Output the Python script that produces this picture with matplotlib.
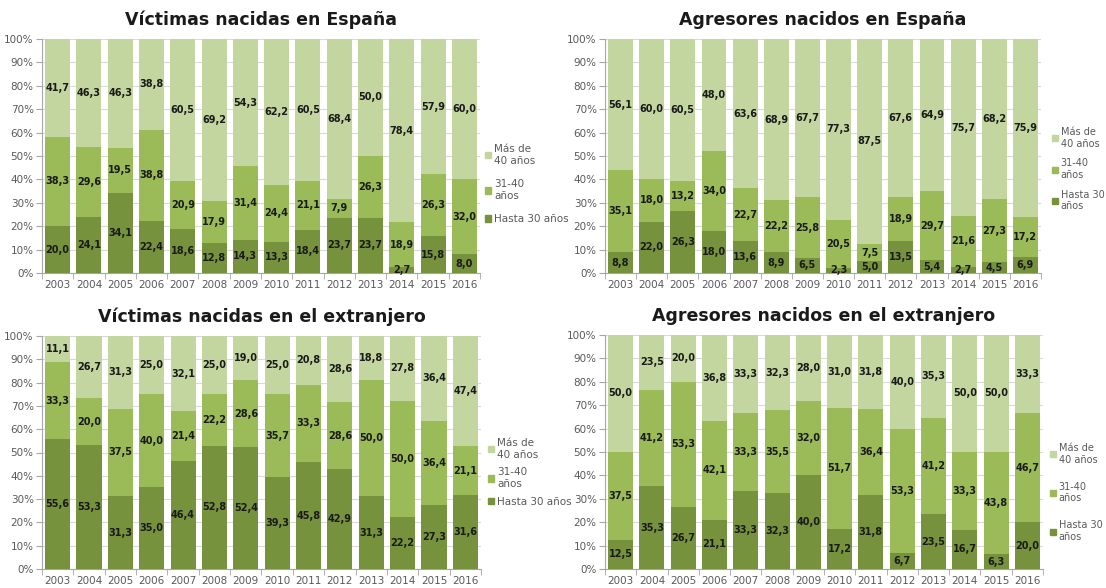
import numpy as np
import matplotlib.pyplot as plt
from matplotlib.patches import Patch

years = [str(y) for y in range(2003, 2017)]

# Víctimas nacidas en España
vic_esp_30 = [20.0, 24.1, 34.1, 22.4, 18.6, 12.8, 14.3, 13.3, 18.4, 23.7, 23.7, 2.7, 15.8, 8.0]
vic_esp_3140 = [38.3, 29.6, 19.5, 38.8, 20.9, 17.9, 31.4, 24.4, 21.1, 7.9, 26.3, 18.9, 26.3, 32.0]
vic_esp_40 = [41.7, 46.3, 46.3, 38.8, 60.5, 69.2, 54.3, 62.2, 60.5, 68.4, 50.0, 78.4, 57.9, 60.0]

# Agresores nacidos en España
agr_esp_30 = [8.8, 22.0, 26.3, 18.0, 13.6, 8.9, 6.5, 2.3, 5.0, 13.5, 5.4, 2.7, 4.5, 6.9]
agr_esp_3140 = [35.1, 18.0, 13.2, 34.0, 22.7, 22.2, 25.8, 20.5, 7.5, 18.9, 29.7, 21.6, 27.3, 17.2]
agr_esp_40 = [56.1, 60.0, 60.5, 48.0, 63.6, 68.9, 67.7, 77.3, 87.5, 67.6, 64.9, 75.7, 68.2, 75.9]

# Víctimas nacidas en el extranjero
vic_ext_30 = [55.6, 53.3, 31.3, 35.0, 46.4, 52.8, 52.4, 39.3, 45.8, 42.9, 31.3, 22.2, 27.3, 31.6]
vic_ext_3140 = [33.3, 20.0, 37.5, 40.0, 21.4, 22.2, 28.6, 35.7, 33.3, 28.6, 50.0, 50.0, 36.4, 21.1]
vic_ext_40 = [11.1, 26.7, 31.3, 25.0, 32.1, 25.0, 19.0, 25.0, 20.8, 28.6, 18.8, 27.8, 36.4, 47.4]

# Agresores nacidos en el extranjero
agr_ext_30 = [12.5, 35.3, 26.7, 21.1, 33.3, 32.3, 40.0, 17.2, 31.8, 6.7, 23.5, 16.7, 6.3, 20.0]
agr_ext_3140 = [37.5, 41.2, 53.3, 42.1, 33.3, 35.5, 32.0, 51.7, 36.4, 53.3, 41.2, 33.3, 43.8, 46.7]
agr_ext_40 = [50.0, 23.5, 20.0, 36.8, 33.3, 32.3, 28.0, 31.0, 31.8, 40.0, 35.3, 50.0, 50.0, 33.3]

c_dark = '#76923C'
c_mid = '#9BBB59'
c_light = '#C4D69F'
grey = '#595959'

fig = plt.figure(figsize=(11.06, 5.88), dpi=100)
W, H = 1106, 588


def panel(rect_px, title, s30, s3140, s40, lab30, leg_xy, leg_space, leg_fs):
    x0, y0, x1, y1 = rect_px
    ax = fig.add_axes([x0 / W, 1 - y1 / H, (x1 - x0) / W, (y1 - y0) / H])
    x = np.arange(len(years))
    b30 = np.array(s30)
    b31 = np.array(s3140)
    b40 = np.array(s40)
    ax.bar(x, b30, width=0.8, color=c_dark, zorder=3)
    ax.bar(x, b31, width=0.8, bottom=b30, color=c_mid, zorder=3)
    ax.bar(x, b40, width=0.8, bottom=b30 + b31, color=c_light, zorder=3)
    for i in range(len(years)):
        bottoms = [0, b30[i], b30[i] + b31[i]]
        for v, b in zip([b30[i], b31[i], b40[i]], bottoms):
            ax.text(x[i], b + v / 2, ('%.1f' % v).replace('.', ','), ha='center',
                    va='center', fontsize=7, fontweight='bold', color='#1a1a1a', zorder=4)
    ax.set_xlim(-0.5, len(years) - 0.5)
    ax.set_ylim(0, 100)
    ax.set_yticks(range(0, 101, 10))
    ax.set_yticklabels(['%d%%' % v for v in range(0, 101, 10)])
    ax.set_xticks(x)
    ax.set_xticklabels(years)
    ax.set_xticks(np.arange(-0.5, len(years), 1), minor=True)
    ax.tick_params(axis='x', which='major', length=0, labelsize=7.5, colors=grey, pad=5)
    ax.tick_params(axis='x', which='minor', length=4, color='#a6a6a6')
    ax.tick_params(axis='y', length=4, labelsize=7.5, colors=grey, color='#a6a6a6', pad=2)
    ax.grid(axis='y', color='#d9d9d9', linewidth=0.8, zorder=0)
    for s in ['top', 'right']:
        ax.spines[s].set_visible(False)
    ax.spines['left'].set_color('#a6a6a6')
    ax.spines['bottom'].set_color('#a6a6a6')
    ax.set_title(title, fontsize=12.5, fontweight='bold', color='#1a1a1a', pad=10)
    handles = [Patch(color=c_light), Patch(color=c_mid), Patch(color=c_dark)]
    ax.legend(handles, ['Más de\n40 años', '31-40\naños', lab30],
              loc='upper left', bbox_to_anchor=(leg_xy[0] / W, 1 - leg_xy[1] / H),
              bbox_transform=fig.transFigure, frameon=False,
              fontsize=leg_fs, labelcolor=grey, handlelength=0.6, handleheight=0.6,
              handletextpad=0.3, labelspacing=leg_space, borderpad=0, borderaxespad=0)
    return ax


panel((42, 39, 480, 273), 'Víctimas nacidas en España', vic_esp_30, vic_esp_3140, vic_esp_40,
      'Hasta 30 años', (485, 144), 1.3, 7.5)
panel((605, 39, 1041, 273), 'Agresores nacidos en España', agr_esp_30, agr_esp_3140, agr_esp_40,
      'Hasta 30\naños', (1052, 127), 1.0, 7)
panel((42, 336, 481, 569), 'Víctimas nacidas en el extranjero', vic_ext_30, vic_ext_3140, vic_ext_40,
      'Hasta 30 años', (488, 438), 0.75, 7.5)
panel((605, 335, 1043, 569), 'Agresores nacidos en el extranjero', agr_ext_30, agr_ext_3140, agr_ext_40,
      'Hasta 30\naños', (1050, 443), 1.75, 7)

fig.savefig('out.png', dpi=100)
